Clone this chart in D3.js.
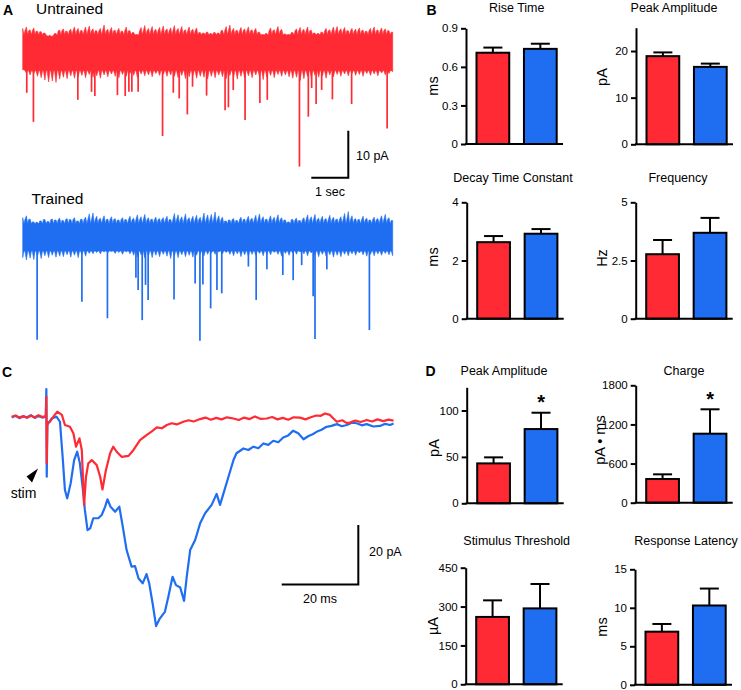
<!DOCTYPE html>
<html><head><meta charset="utf-8">
<script src="https://cdn.jsdelivr.net/npm/d3@7"></script>
<style>
body{margin:0;background:#fff}
svg text{font-family:"Liberation Sans",Arial,Helvetica,sans-serif;fill:#000}
</style></head>
<body><svg id="fig" width="741" height="690"></svg>
<script>
// ---------------- DATA ----------------
const groups = ["Untrained", "Trained"];
const RED = "#ff2a33", BLUE = "#1f6ef2";

// Panel A: noise envelope (pA, every 0.1 s over 10 s), solid core of the noise band, and events [time s, amplitude pA]
const redUpper = [4.6,4.9,4.3,4.7,4.0,3.9, 3.6,3.0,2.9,3.5,4.2, 4.5,4.0,4.4,4.9,4.6, 4.2,4.9,5.1,4.5,4.1,
  4.6,5.3,4.4,4.8,4.2, 4.6,4.0,4.9,4.1,3.7, 3.3,4.8,5.2,4.6,5.0, 4.4,4.8,5.1,4.5,4.7, 5.2,4.6,5.0,4.3,4.9,
  4.4,4.7,3.7,3.6,3.8, 3.5,3.7,3.6,4.2,5.0, 5.3,4.6,4.2,4.8,4.5, 4.9,4.3,4.6,3.8,3.3, 3.5,4.7,4.3,5.0,4.4,
  3.4,3.3,3.7,4.5,4.8, 4.4,4.9,4.2,3.6,3.5, 3.8,4.6,4.3,4.9,5.0, 4.5,4.8,4.1,4.6,4.4, 4.7,4.2,4.0,4.6,4.9,
  4.3,4.7,4.5,4.1,3.8];
const redLower = [-4.2,-4.9,-5.3,-5.0,-5.6,-5.9, -6.4,-6.8,-6.6,-6.9,-6.2, -5.8,-6.1,-5.5,-6.0,-5.7, -5.4,-5.9,-5.2,-5.8,-5.5,
  -6.0,-5.3,-5.7,-5.1,-5.6, -5.9,-5.2,-5.6,-5.0,-5.4, -5.8,-5.1,-5.5,-5.3,-5.7, -5.0,-5.4,-5.2,-5.6,-5.3, -5.6,-5.9,-5.4,-6.1,-5.7,
  -5.5,-6.0,-5.6,-5.8,-6.2, -5.6,-5.9,-5.3,-5.7,-6.1, -5.4,-5.8,-6.2,-5.6,-6.0, -5.5,-5.9,-5.3,-5.7,-6.3, -5.8,-5.4,-5.9,-5.2,-5.6,
  -5.3,-5.7,-6.0,-5.8,-6.5, -6.1,-5.6,-5.9,-5.4,-5.8, -5.5,-6.0,-5.3,-5.7,-5.2, -5.6,-5.1,-5.5,-5.0,-5.4, -5.2,-5.6,-5.0,-5.4,-5.1,
  -5.5,-4.9,-5.3,-5.0,-4.6];
const redCore = [3.2, -4.4];
const redEvents = [[0.11,9.1],[0.29,15.3],[1.49,10.6],[1.86,8.9],[1.95,9.8],[2.56,9.6],[2.77,9.8],[2.87,8.9],[2.95,8.9],
  [3.12,8.9],[3.78,18.3],[4.07,9.1],[4.23,10.3],[4.45,13.7],[4.59,7.8],[4.97,9.7],[5.47,12.8],[5.56,12.2],[5.69,8.5],
  [6.01,14.9],[6.41,11.3],[6.61,10.6],[7.48,24.8],[7.72,14.2],[7.81,8.1],[7.93,11.5],[8.08,8.5],[8.37,10.5],[8.89,11.5],[9.85,16.7]];

const blueUpper = [3.9,4.3,3.6,3.0,2.9,3.2, 3.5,3.1,3.6,3.4,3.8, 3.3,3.7,3.5,3.9,3.2, 3.6,4.0,4.7,4.9,4.2,
  3.8,4.3,3.6,4.1,3.7, 3.4,3.9,3.5,4.2,3.8, 4.5,4.1,4.6,3.9,3.6, 4.0,3.7,3.9,4.2,3.5, 4.8,4.5,4.1,4.7,3.9,
  4.2,4.4,4.0,4.9,4.5, 4.6,5.1,4.3,4.0,3.2, 3.4,3.7,3.3,4.0,3.6, 4.2,3.8,4.4,4.7,4.1, 3.6,4.3,4.0,4.5,3.9,
  3.4,3.0,3.5,3.8,3.3, 3.9,4.5,4.1,4.6,3.8, 4.2,3.7,4.4,4.0,3.6, 4.1,4.8,5.2,4.3,3.7, 3.5,4.2,3.8,3.4,4.0,
  3.7,4.3,4.6,3.9,3.3];
const blueLower = [-4.6,-5.1,-4.7,-5.0,-4.3,-4.8, -4.2,-4.6,-4.1,-4.5,-4.3, -4.4,-4.0,-4.5,-4.1,-4.6, -3.9,-4.3,-3.7,-3.8,-3.5,
  -3.8,-3.4,-3.6,-3.3,-3.7, -3.5,-3.9,-3.4,-3.8,-4.1, -4.5,-4.0,-4.7,-4.2,-4.6, -4.1,-4.4,-3.9,-4.3,-4.8, -4.2,-4.6,-4.0,-4.4,-4.1,
  -4.5,-4.1,-3.8,-4.2,-3.9, -3.6,-3.9,-3.4,-3.8,-3.5, -3.9,-4.2,-3.8,-4.4,-4.0, -4.3,-3.9,-4.1,-3.7,-4.2, -3.8,-4.0,-3.5,-3.9,-4.3,
  -3.7,-4.1,-3.6,-3.9,-3.4, -3.8,-4.2,-3.6,-4.0,-4.4, -3.9,-4.3,-4.0,-4.5,-4.1, -4.4,-3.9,-4.2,-3.8,-4.1, -3.6,-4.0,-4.3,-3.9,-4.2,
  -3.8,-4.1,-3.7,-4.0,-4.2];
const blueCore = [2.6, -3.2];
const blueEvents = [[0.39,22.1],[1.60,14.0],[2.29,17.5],[3.06,8.9],[3.12,11.5],[3.23,17.9],[3.32,10.4],[3.39,13.6],[4.09,13.5],
  [4.66,10.1],[4.79,22.3],[4.87,10.3],[5.08,15.4],[5.25,11.5],[5.38,12.2],[6.10,6.5],[6.31,13.6],[6.60,7.1],[7.03,8.3],
  [7.31,9.4],[7.54,6.2],[7.85,12.8],[7.90,21.9],[8.22,7.1],[9.37,20.0]];

// Panel C: evoked responses [time ms, current pA]
const redEvoked = [[0,0],[1,0.4],[2,-0.3],[3,0.2],[4,-0.4],[5,0.3],[6,-0.2],[7,0.5],[8,-0.1],[8.9,0.2],[9.05,6.7],[9.15,-15.7],
  [9.3,-2.0],[10.0,-1.7],[10.9,0],[11.9,1.7],[13.1,0.6],[13.9,-2.8],[15.2,-3.4],[16.1,-5.6],[16.8,-10.1],[17.7,-7.3],[18.3,-11.2],
  [18.9,-29.7],[19.4,-20.2],[20.0,-15.7],[20.9,-14.6],[22.2,-16.3],[23.1,-20.2],[23.7,-24.5],[24.6,-18.0],[25.7,-12.3],[26.5,-10.1],
  [27.4,-11.8],[28.7,-13.5],[30.5,-13.2],[31.8,-11.2],[33.5,-7.9],[35.2,-6.2],[36.5,-5.0],[37.9,-3.6],[39.2,-3.9],[40.5,-2.8],
  [41.8,-2.2],[43.1,-2.6],[44.8,-1.7],[46.2,-1.2],[47.5,-1.6],[49.2,-0.8],[50.6,-0.3],[52.0,-1.0],[53.4,-0.4],[54.8,-0.9],
  [56.2,-0.2],[57.9,-0.6],[59.3,-1.1],[60.7,-0.3],[62.1,-0.8],[63.5,0.1],[64.9,-0.7],[66.6,-0.6],[68.0,-0.1],[69.4,-0.9],
  [70.8,-0.4],[72.2,-1.0],[73.6,-0.2],[75.3,-0.3],[76.7,-0.9],[78.1,-0.2],[79.5,0.4],[80.7,0.3],[81.8,1.1],[83.1,0.6],
  [84.0,-0.6],[84.9,-1.7],[86.3,-1.2],[87.4,-2.1],[88.3,-2.0],[89.7,-1.3],[91.1,-1.8],[92.7,-1.1],[94.1,-1.6],[95.5,-0.9],
  [97.0,-1.5],[98.4,-1.0],[99.7,-1.3]];
const blueEvoked = [[0,-0.3],[1,0.3],[2,-0.5],[3,0.1],[4,-0.2],[5,0.5],[6,-0.4],[7,0.2],[8,-0.3],[8.9,0],[9.05,9.3],[9.15,-20.2],
  [9.3,-2.8],[10.4,-0.6],[11.7,0],[12.6,-1.7],[13.3,-13.5],[13.9,-24.7],[14.5,-27.5],[15.4,-22.4],[16.3,-14.6],[17.1,-11.8],
  [17.8,-15.7],[18.7,-25.8],[19.1,-31.4],[19.8,-38.2],[20.5,-37.6],[21.3,-34.2],[22.6,-34.2],[23.5,-33.1],[24.4,-30.3],[25.0,-27.8],
  [25.8,-30.3],[27.0,-32.0],[28.1,-30.3],[29.0,-37.0],[30.0,-44.9],[31.3,-50.5],[32.2,-50.3],[33.1,-54.4],[34.2,-56.1],[35.2,-53.0],
  [35.9,-56.1],[36.8,-62.9],[37.7,-70.5],[38.7,-67.9],[40.0,-65.7],[40.9,-60.6],[42.0,-53.9],[42.9,-56.7],[44.0,-57.5],[45.0,-62.0],
  [45.7,-53.9],[46.6,-44.9],[47.9,-41.5],[49.2,-35.9],[50.5,-32.5],[52.2,-29.7],[53.5,-26.0],[54.4,-29.7],[55.3,-25.8],[56.6,-20.2],
  [57.9,-14.6],[58.7,-12.3],[60.5,-10.7],[61.8,-11.2],[63.1,-10.1],[64.4,-10.6],[65.7,-9.0],[67.0,-9.5],[68.3,-8.1],[69.6,-8.6],
  [70.9,-7.0],[72.2,-6.3],[73.5,-4.7],[74.8,-5.6],[76.2,-7.6],[77.5,-6.5],[78.6,-5.9],[79.6,-5.1],[80.9,-4.4],[82.2,-3.4],
  [83.5,-3.1],[84.9,-2.5],[86.2,-3.2],[87.5,-2.8],[88.8,-2.0],[90.1,-2.2],[91.4,-2.9],[92.7,-2.5],[94.4,-3.3],[96.2,-3.1],
  [97.5,-2.4],[98.8,-2.8],[99.7,-2.3]];
const stimTime = 9.1;

// Panel B (miniature currents)
const bTitles = ["Rise Time", "Peak Amplitude", "Decay Time Constant", "Frequency"];
const bUnits = ["ms", "pA", "ms", "Hz"];
const bMax = [0.9, 25, 4, 5];
const bTicks = [[0, 0.3, 0.6, 0.9], [0, 10, 20], [0, 2, 4], [0, 2.5, 5]];
const bUntrained = [0.71, 18.9, 2.63, 2.77];
const bUntrainedErr = [0.04, 0.8, 0.21, 0.61];
const bTrained = [0.74, 16.6, 2.92, 3.69];
const bTrainedErr = [0.04, 0.7, 0.16, 0.64];

// Panel D (evoked currents)
const dTitles = ["Peak Amplitude", "Charge", "Stimulus Threshold", "Response Latency"];
const dUnits = ["pA", "pA \u2022 ms", "\u00b5A", "ms"];
const dMax = [125, 1800, 450, 15];
const dTicks = [[0, 50, 100], [0, 600, 1200, 1800], [0, 150, 300, 450], [0, 5, 10, 15]];
const dUntrained = [43, 363, 260, 6.9];
const dUntrainedErr = [6.5, 72, 64, 1.0];
const dTrained = [80, 1058, 293, 10.3];
const dTrainedErr = [17.6, 374, 94, 2.2];
const dSignificant = [true, true, false, false];

// ---------------- LAYOUT ----------------
const svg = d3.select("#fig");
const TICKFONT = '"Liberation Sans Narrow","Arial Narrow","Liberation Sans",Arial,sans-serif';

function panelLetter(t, x, y) {
  svg.append("text").attr("x", x).attr("y", y).attr("font-size", 14).attr("font-weight", "bold").text(t);
}
function label(t, x, y, size, anchor) {
  svg.append("text").attr("x", x).attr("y", y).attr("font-size", size).attr("text-anchor", anchor || "start").text(t);
}

// ---------- Panel A ----------
const xA = d3.scaleLinear().domain([0, 10]).range([22.7, 392.7]);
function drawSpont(upper, lower, core, events, baseY, color) {
  const y = d3.scaleLinear().domain([0, -10]).range([baseY, baseY + 47]);
  const n = upper.length, step = 10 / (n - 1);
  // comb-shaped noise band: sample envelope, falling back to the solid core between samples
  const pts = [];
  for (let i = 0; i < n; i++) {
    pts.push({t: i * step, u: upper[i], l: lower[i]});
    if (i < n - 1) {
      pts.push({t: (i + 0.35) * step, u: core[0], l: Math.max(core[1], lower[i])});
      pts.push({t: (i + 0.6) * step, u: Math.min(core[0] + 0.9, upper[i + 1]), l: core[1]});
    }
  }
  const g = svg.append("g");
  g.append("path").datum(pts)
    .attr("d", d3.area().x(d => xA(d.t)).y1(d => y(d.u)).y0(d => y(d.l)))
    .attr("fill", color).attr("stroke", color).attr("stroke-width", 0.6);
  g.selectAll("line").data(events).join("line")
    .attr("x1", d => xA(d[0])).attr("x2", d => xA(d[0]))
    .attr("y1", y(-3)).attr("y2", d => y(-d[1]))
    .attr("stroke", color).attr("stroke-width", 1.7);
  return y;
}
panelLetter("A", 3, 15);
label("Untrained", 36, 13.5, 15.5);
const yRed = drawSpont(redUpper, redLower, redCore, redEvents, 50, RED);
label("Trained", 31.5, 203.5, 15.5);
drawSpont(blueUpper, blueLower, blueCore, blueEvents, 236, BLUE);
// scale bar A : 10 pA, 1 sec
const sbT = 8.8, sbV = -27.2;
svg.append("path")
  .attr("d", `M${xA(sbT - 1)},${yRed(sbV)}H${xA(sbT)}V${yRed(sbV + 10)}`)
  .attr("fill", "none").attr("stroke", "#000").attr("stroke-width", 2);
label("10 pA", 356, 159.5, 12.5);
label("1 sec", 330, 196, 12.5, "middle");

// ---------- Panel C ----------
const xC = d3.scaleLinear().domain([0, 100]).range([11.7, 394.7]);
const yC = d3.scaleLinear().domain([0, -20]).range([416.7, 476.1]);
panelLetter("C", 2, 376.5);
const lineC = d3.line().x(d => xC(d[0])).y(d => yC(d[1]));
svg.append("path").datum(blueEvoked).attr("d", lineC).attr("fill", "none")
  .attr("stroke", BLUE).attr("stroke-width", 2.2).attr("stroke-linejoin", "round");
svg.append("path").datum(redEvoked).attr("d", lineC).attr("fill", "none")
  .attr("stroke", RED).attr("stroke-width", 2.2).attr("stroke-linejoin", "round");
// stim arrow
const ax0 = xC(stimTime) - 8.5, ay0 = yC(-17.4);
svg.append("path")
  .attr("d", `M${ax0},${ay0}L${ax0 - 11.5},${ay0 + 8}L${ax0 - 6},${ay0 + 14}Z`)
  .attr("fill", "#000");
label("stim", 23.5, 497.5, 14, "middle");
// scale bar C : 20 pA, 20 ms
const cbT = 90.5, cbV = -56.5;
svg.append("path")
  .attr("d", `M${xC(cbT - 20)},${yC(cbV)}H${xC(cbT)}V${yC(cbV + 20)}`)
  .attr("fill", "none").attr("stroke", "#000").attr("stroke-width", 2);
label("20 pA", 369, 556, 12.5);
label("20 ms", 320, 602.5, 12.5, "middle");

// ---------- Bar charts (B, D) ----------
function barChart(L, spec) {
  const g = svg.append("g");
  const y = d3.scaleLinear().domain([0, spec.max]).range([L.bottom, L.top]);
  const x = d3.scaleBand().domain(groups).range([L.ax + 10.5, L.ax + 90.7]).paddingInner(0.31);
  const data = [
    {k: groups[0], v: spec.vals[0], e: spec.errs[0], c: RED},
    {k: groups[1], v: spec.vals[1], e: spec.errs[1], c: BLUE}];
  const capW = 19;
  data.forEach(d => {
    const cx = x(d.k) + x.bandwidth() / 2;
    g.append("line").attr("x1", cx).attr("x2", cx).attr("y1", y(d.v)).attr("y2", y(d.v + d.e))
      .attr("stroke", "#000").attr("stroke-width", 2);
    g.append("line").attr("x1", cx - capW / 2).attr("x2", cx + capW / 2)
      .attr("y1", y(d.v + d.e)).attr("y2", y(d.v + d.e))
      .attr("stroke", "#000").attr("stroke-width", 2);
  });
  g.selectAll("rect.bar").data(data).join("rect").attr("class", "bar")
    .attr("x", d => x(d.k)).attr("width", x.bandwidth())
    .attr("y", d => y(d.v)).attr("height", d => y(0) - y(d.v))
    .attr("fill", d => d.c).attr("stroke", "#000").attr("stroke-width", 2);
  const axis = g.append("g").attr("transform", `translate(${L.ax},0)`)
    .call(d3.axisLeft(y).tickValues(spec.ticks).tickSize(5).tickSizeOuter(0).tickPadding(3)
      .tickFormat(d3.format("~g")));
  axis.select(".domain").attr("stroke-width", 2);
  axis.selectAll(".tick line").attr("stroke-width", 2);
  axis.selectAll(".tick text").attr("font-size", 11.5).attr("font-family", TICKFONT).attr("fill", "#000");
  g.append("line").attr("x1", L.ax - 1).attr("x2", L.ax + 97).attr("y1", L.bottom).attr("y2", L.bottom)
    .attr("stroke", "#000").attr("stroke-width", 2);
  g.append("text").attr("x", L.tx).attr("y", L.ty).attr("text-anchor", "middle")
    .attr("font-size", 12.5).text(spec.title);
  g.append("text").attr("transform", `translate(${L.lx},${L.ly}) rotate(-90)`)
    .attr("text-anchor", "middle").attr("dy", "0.35em").attr("font-size", 14.5).text(spec.unit);
  if (spec.sig) {
    const cx = x(groups[1]) + x.bandwidth() / 2;
    g.append("text").attr("x", cx).attr("y", y(data[1].v + data[1].e) - 3.5)
      .attr("text-anchor", "middle").attr("font-size", 20).attr("font-weight", "bold").text("*");
  }
}

const bLayout = [
  {ax: 466, top: 28.3, bottom: 144, tx: 516.7, ty: 11.5, lx: 433, ly: 86},
  {ax: 636, top: 27.7, bottom: 144.3, tx: 674, ty: 11.5, lx: 602, ly: 77},
  {ax: 466.7, top: 202.3, bottom: 318.7, tx: 513, ty: 181.5, lx: 433, ly: 257},
  {ax: 635.7, top: 202.3, bottom: 318.7, tx: 678, ty: 181.5, lx: 601.5, ly: 258}];
const dLayout = [
  {ax: 466.7, top: 387.3, bottom: 503.3, tx: 504, ty: 374.5, lx: 433.5, ly: 448},
  {ax: 635.7, top: 385.3, bottom: 502.7, tx: 684, ty: 374.5, lx: 600, ly: 440},
  {ax: 465.7, top: 567.7, bottom: 684.3, tx: 516.7, ty: 545, lx: 432.5, ly: 626},
  {ax: 635, top: 569.3, bottom: 684.8, tx: 686, ty: 545, lx: 601.5, ly: 627}];

panelLetter("B", 426.5, 15);
bTitles.forEach((t, i) => barChart(bLayout[i], {
  title: t, unit: bUnits[i], max: bMax[i], ticks: bTicks[i],
  vals: [bUntrained[i], bTrained[i]], errs: [bUntrainedErr[i], bTrainedErr[i]], sig: false}));
panelLetter("D", 425.5, 376);
dTitles.forEach((t, i) => barChart(dLayout[i], {
  title: t, unit: dUnits[i], max: dMax[i], ticks: dTicks[i],
  vals: [dUntrained[i], dTrained[i]], errs: [dUntrainedErr[i], dTrainedErr[i]], sig: dSignificant[i]}));
</script></body></html>
